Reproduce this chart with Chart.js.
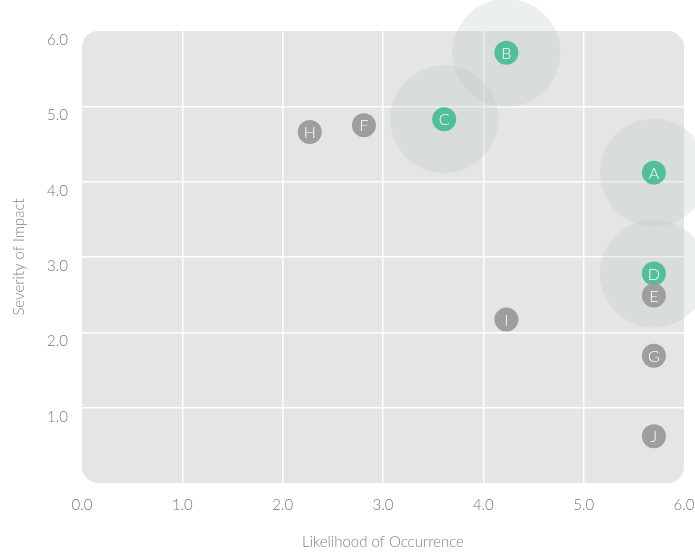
<!DOCTYPE html>
<html>
<head>
<meta charset="utf-8">
<script src="https://cdn.jsdelivr.net/npm/chart.js@4.4.1/dist/chart.umd.min.js"></script>
<style>
  html, body { margin: 0; padding: 0; background: #fff; }
  #wrap { width: 695px; height: 557px; }
</style>
</head>
<body>
<div id="wrap"><canvas id="risk"></canvas></div>
<script>
// Risk points: likelihood (x) vs severity (y)
const highlightLabels = ['A', 'B', 'C', 'D'];
const highlightX = [5.70, 4.23, 3.61, 5.70];
const highlightY = [4.12, 5.71, 4.83, 2.78];

const otherLabels = ['E', 'F', 'G', 'H', 'I', 'J'];
const otherX = [5.70, 2.81, 5.70, 2.27, 4.23, 5.70];
const otherY = [2.49, 4.75, 1.69, 4.66, 2.17, 0.62];

const xTicks = [0, 1, 2, 3, 4, 5, 6];
const yTicks = [1, 2, 3, 4, 5, 6];

const FONT = 'Lato';
const pts = (xs, ys) => xs.map((x, i) => ({ x, y: ys[i] }));

// rounded grey plot background
const plotBg = {
  id: 'plotBg',
  beforeDraw(chart) {
    const { ctx, chartArea: a } = chart;
    ctx.save();
    ctx.fillStyle = '#e5e5e5';
    ctx.beginPath();
    ctx.roundRect(a.left, a.top, a.right - a.left, a.bottom - a.top, 16);
    ctx.fill();
    ctx.restore();
  }
};

// letters inside the small dots
const dotLetters = {
  id: 'dotLetters',
  afterDatasetsDraw(chart) {
    const { ctx } = chart;
    ctx.save();
    ctx.fillStyle = '#ffffff';
    ctx.font = '300 16px ' + FONT;
    ctx.textAlign = 'center';
    ctx.textBaseline = 'middle';
    chart.data.datasets.forEach((ds, di) => {
      if (!ds.letters) return;
      chart.getDatasetMeta(di).data.forEach((el, i) => {
        ctx.fillText(ds.letters[i], el.x, el.y + 1);
      });
    });
    ctx.restore();
  }
};

const gridColor = (c) => {
  const v = c.tick && c.tick.value;
  return (v === 0 || v === 6) ? 'rgba(0,0,0,0)' : '#ffffff';
};

new Chart(document.getElementById('risk'), {
  type: 'scatter',
  data: {
    datasets: [
      {
        data: pts(otherX, otherY),
        letters: otherLabels,
        backgroundColor: '#9e9e9e',
        borderWidth: 0,
        pointRadius: 12,
        pointHoverRadius: 12,
        clip: false
      },
      {
        data: pts(highlightX, highlightY),
        letters: highlightLabels,
        backgroundColor: '#52bf98',
        borderWidth: 0,
        pointRadius: 12,
        pointHoverRadius: 12,
        clip: false
      },
      {
        // halos behind the highlighted risks
        data: pts(highlightX, highlightY),
        backgroundColor: 'rgba(181,199,190,0.27)',
        borderWidth: 0,
        pointRadius: 54,
        pointHoverRadius: 54,
        clip: false
      }
    ]
  },
  options: {
    responsive: true,
    maintainAspectRatio: false,
    animation: false,
    events: [],
    layout: { autoPadding: false, padding: { top: 31, right: 11, left: 0, bottom: 0 } },
    plugins: { legend: { display: false }, tooltip: { enabled: false } },
    scales: {
      x: {
        type: 'linear',
        min: 0, max: 6,
        afterFit: (s) => { s.height = 74; s.paddingLeft = 0; s.paddingRight = 0; },
        afterBuildTicks: (s) => { s.ticks = xTicks.map(v => ({ value: v })); },
        grid: { color: gridColor, lineWidth: 1.5, drawTicks: false },
        border: { display: false },
        ticks: {
          padding: 13,
          color: '#777777',
          font: { family: FONT, size: 15, weight: '300' },
          callback: (v) => v.toFixed(1)
        },
        title: {
          display: true,
          text: 'Likelihood of Occurrence',
          color: '#808080',
          font: { family: FONT, size: 15, weight: '300' },
          padding: { top: 0, bottom: 6 }
        }
      },
      y: {
        type: 'linear',
        min: 0, max: 6,
        afterFit: (s) => { s.width = 82; s.paddingTop = 0; s.paddingBottom = 0; },
        afterBuildTicks: (s) => { s.ticks = yTicks.map(v => ({ value: v })); },
        grid: { color: gridColor, lineWidth: 1.5, drawTicks: false },
        border: { display: false },
        ticks: {
          padding: 14,
          labelOffset: 9,
          color: '#777777',
          font: { family: FONT, size: 15, weight: '300' },
          callback: (v) => v.toFixed(1)
        },
        title: {
          display: true,
          text: 'Severity of Impact',
          color: '#808080',
          font: { family: FONT, size: 15, weight: '300' },
          padding: { top: 10, bottom: 0 }
        }
      }
    }
  },
  plugins: [plotBg, dotLetters]
});
</script>
</body>
</html>
